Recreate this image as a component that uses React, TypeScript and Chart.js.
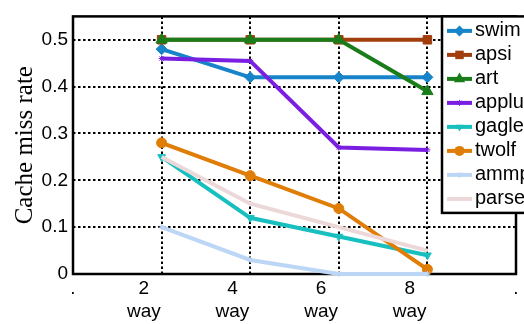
import React, { useEffect, useRef } from 'react';
import { Chart, registerables } from 'chart.js';

Chart.register(...registerables);

// ---- data ----
const ways = [2, 4, 6, 8];
const xTickValues = [0, 2, 4, 6, 8, 10];
const xTickLabels: string[][] = [['.'], ['2', 'way'], ['4', 'way'], ['6', 'way'], ['8', 'way'], ['.']];
const yTickValues = [0, 0.1, 0.2, 0.3, 0.4, 0.5];
const yTitle = 'Cache miss rate';

const seriesNames = ['swim', 'apsi', 'art', 'applu', 'gagle', 'twolf', 'ammp', 'parser'];
const swim = [0.48, 0.42, 0.42, 0.42];
const apsi = [0.5, 0.5, 0.5, 0.5];
const art = [0.5, 0.5, 0.5, 0.39];
const applu = [0.46, 0.455, 0.27, 0.265];
const gagle = [0.25, 0.12, 0.08, 0.04];
const twolf = [0.28, 0.21, 0.14, 0.01];
const ammp = [0.1, 0.03, 0.0, 0.0];
const parser = [0.25, 0.15, 0.1, 0.05];
const seriesValues = [swim, apsi, art, applu, gagle, twolf, ammp, parser];

// ---- styles ----
const colors = ['#1784c9', '#a23d0c', '#1a7d1a', '#7a1fe2', '#17bfbf', '#e07d06', '#bcd6f5', '#ecd8d8'];
const markerStyles = ['rectRot', 'rect', 'triangle', 'star', 'triangle', 'circle', 'star', 'none'];
const markerRadius = [5.5, 6, 6.5, 3, 4.5, 5, 3, 0];
const markerRotation = [0, 0, 0, 0, 180, 0, 0, 0];

const LABEL_SHIFT = 0.4;
const SANS = "'Liberation Sans', Arial, sans-serif";
const SERIF = "'Liberation Serif', 'Times New Roman', serif";

function drawMarker(ctx: CanvasRenderingContext2D, style: string, x: number, y: number, r: number, rot: number, color: string) {
  if (style === 'none' || r <= 0) return;
  ctx.save();
  ctx.fillStyle = color;
  ctx.strokeStyle = color;
  ctx.lineWidth = 1;
  ctx.beginPath();
  let rad = (rot * Math.PI) / 180;
  if (style === 'circle') {
    ctx.arc(x, y, r, 0, Math.PI * 2);
    ctx.fill();
  } else if (style === 'rect') {
    const s = Math.SQRT1_2 * r;
    ctx.rect(x - s, y - s, 2 * s, 2 * s);
    ctx.fill();
  } else if (style === 'rectRot') {
    ctx.moveTo(x, y - r);
    ctx.lineTo(x + r, y);
    ctx.lineTo(x, y + r);
    ctx.lineTo(x - r, y);
    ctx.closePath();
    ctx.fill();
  } else if (style === 'triangle') {
    const t = (2 * Math.PI) / 3;
    ctx.moveTo(x + Math.sin(rad) * r, y - Math.cos(rad) * r);
    rad += t;
    ctx.lineTo(x + Math.sin(rad) * r, y - Math.cos(rad) * r);
    rad += t;
    ctx.lineTo(x + Math.sin(rad) * r, y - Math.cos(rad) * r);
    ctx.closePath();
    ctx.fill();
  } else if (style === 'star') {
    ctx.moveTo(x - r, y);
    ctx.lineTo(x + r, y);
    ctx.moveTo(x, y - r);
    ctx.lineTo(x, y + r);
    const d = r * Math.SQRT1_2;
    ctx.moveTo(x - d, y - d);
    ctx.lineTo(x + d, y + d);
    ctx.moveTo(x - d, y + d);
    ctx.lineTo(x + d, y - d);
    ctx.stroke();
  }
  ctx.restore();
}

const framePlugin = {
  id: 'frame',
  beforeDatasetsDraw(chart: any) {
    const { ctx, chartArea: a } = chart;
    ctx.save();
    ctx.strokeStyle = '#000';
    ctx.lineWidth = 2.5;
    ctx.strokeRect(a.left, a.top, a.right - a.left, a.bottom - a.top);
    ctx.restore();
  },
};

const legendPlugin = {
  id: 'boxLegend',
  afterDatasetsDraw(chart: any) {
    const { ctx, chartArea: a } = chart;
    const left = 442;
    const top = a.top;
    const rowH = 24;
    const firstY = top + 14.5;
    const bottom = firstY + rowH * (seriesNames.length - 1) + 14;
    ctx.save();
    ctx.fillStyle = '#fff';
    ctx.fillRect(left, top, 200, bottom - top);
    ctx.strokeStyle = '#000';
    ctx.lineWidth = 2.5;
    ctx.strokeRect(left, top, 200, bottom - top);
    ctx.font = `20px ${SANS}`;
    ctx.textBaseline = 'middle';
    ctx.textAlign = 'left';
    seriesNames.forEach((name, i) => {
      const y = firstY + rowH * i;
      ctx.strokeStyle = colors[i];
      ctx.lineWidth = 4;
      ctx.beginPath();
      ctx.moveTo(447, y);
      ctx.lineTo(472, y);
      ctx.stroke();
      drawMarker(ctx, markerStyles[i], 459.5, y, markerRadius[i], markerRotation[i], colors[i]);
      ctx.fillStyle = '#000';
      ctx.fillText(name, 475, y);
    });
    ctx.restore();
  },
};

export default function App() {
  const ref = useRef<HTMLCanvasElement>(null);

  useEffect(() => {
    if (!ref.current) return;
    const labelByValue = new Map<number, string[] | string>();
    const tickList: number[] = [];
    xTickValues.forEach((v, i) => {
      const isEdge = v === xTickValues[0] || v === xTickValues[xTickValues.length - 1];
      const pos = isEdge ? v : +(v - LABEL_SHIFT).toFixed(3);
      labelByValue.set(pos, xTickLabels[i]);
      tickList.push(pos);
      if (!isEdge) {
        tickList.push(v);
        labelByValue.set(v, '');
      }
    });
    const waySet = new Set(ways);

    const datasets = seriesNames.map((name, i) => ({
      label: name,
      data: ways.map((w, j) => ({ x: w, y: seriesValues[i][j] })),
      borderColor: colors[i],
      backgroundColor: colors[i],
      borderWidth: 4,
      pointStyle: markerStyles[i] === 'none' ? false : markerStyles[i],
      pointRadius: markerRadius[i],
      pointRotation: markerRotation[i],
      pointBorderWidth: 1,
      pointBorderColor: colors[i],
      pointBackgroundColor: colors[i],
      clip: 10,
      order: seriesNames.length - i,
      tension: 0,
    }));

    const chart = new Chart(ref.current, {
      type: 'line',
      data: { datasets: datasets as any },
      options: {
        animation: false,
        responsive: false,
        maintainAspectRatio: false,
        layout: { padding: { top: 8, right: 8, left: 0, bottom: 0 } },
        plugins: { legend: { display: false }, tooltip: { enabled: false } },
        scales: {
          x: {
            type: 'linear',
            min: 0,
            max: 10,
            afterBuildTicks: (scale: any) => {
              scale.ticks = tickList.map((v) => ({ value: v }));
            },
            afterFit: (scale: any) => {
              scale.height = 50;
            },
            grid: {
              drawTicks: false,
              lineWidth: 2,
              color: (ctx: any) => (ctx.tick && waySet.has(ctx.tick.value) ? '#000' : 'rgba(0,0,0,0)'),
            },
            border: { display: false, dash: [2.5, 2.5] },
            ticks: {
              autoSkip: false,
              maxRotation: 0,
              minRotation: 0,
              padding: 3,
              color: '#000',
              font: { family: SANS, size: 19, lineHeight: 1.22 },
              callback: (value: any) => {
                const l = labelByValue.get(+(+value).toFixed(3));
                return l === undefined ? '' : l;
              },
            },
          },
          y: {
            type: 'linear',
            min: 0,
            max: 0.55,
            afterBuildTicks: (scale: any) => {
              scale.ticks = yTickValues.map((v) => ({ value: v }));
            },
            afterFit: (scale: any) => {
              scale.width = 73;
            },
            grid: {
              drawTicks: false,
              lineWidth: 2,
              color: (ctx: any) => (ctx.tick && ctx.tick.value > 0 ? '#000' : 'rgba(0,0,0,0)'),
            },
            border: { display: false, dash: [2.5, 2.5] },
            ticks: {
              padding: 5,
              color: '#000',
              font: { family: SANS, size: 19 },
              callback: (value: any) => (+value === 0 ? '0' : (+value).toFixed(1)),
            },
            title: {
              display: true,
              text: yTitle,
              color: '#000',
              font: { family: SERIF, size: 25 },
              padding: { top: 10, bottom: 0 },
            },
          },
        },
      },
      plugins: [framePlugin, legendPlugin],
    });
    return () => chart.destroy();
  }, []);

  return (
    <div style={{ position: 'absolute', left: 0, top: 0, width: 524, height: 324, overflow: 'hidden', background: '#fff' }}>
      <canvas ref={ref} width={524} height={324} style={{ display: 'block', width: 524, height: 324 }} />
    </div>
  );
}
